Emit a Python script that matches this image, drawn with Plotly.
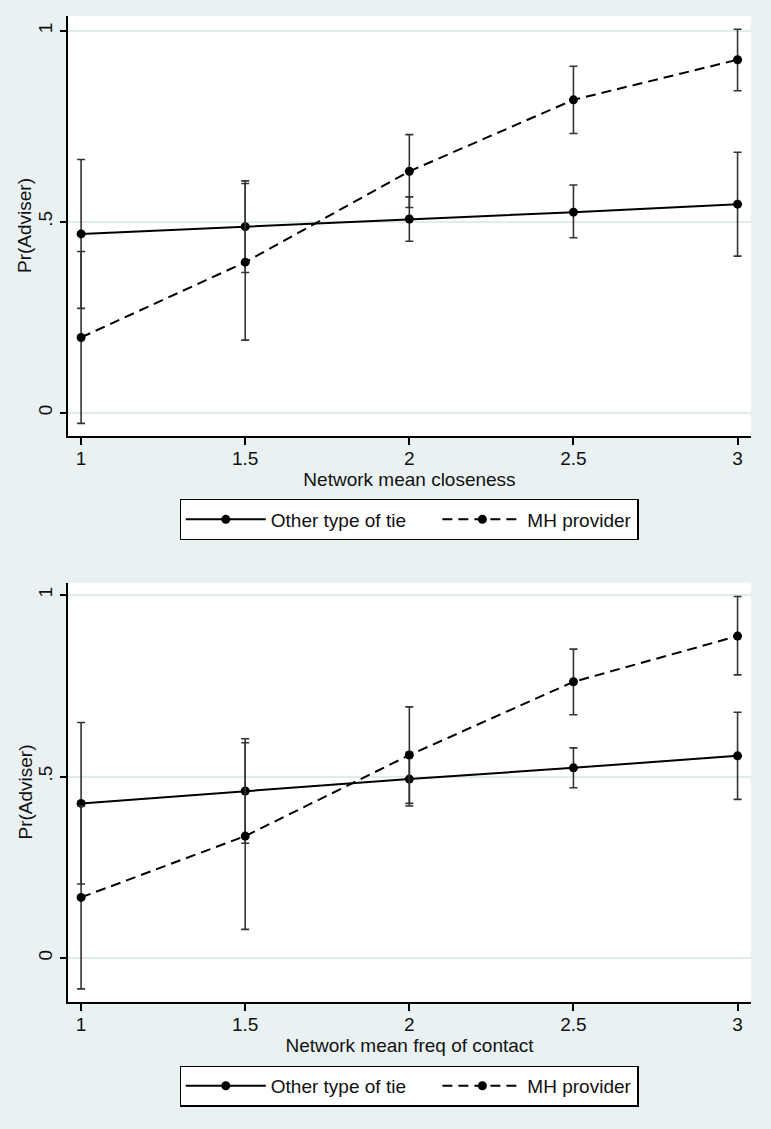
import plotly.graph_objects as go

x_vals = [1, 1.5, 2, 2.5, 3]

# top panel: network mean closeness
close_other = [0.468, 0.487, 0.507, 0.525, 0.546]
close_other_lo = [0.273, 0.367, 0.449, 0.458, 0.410]
close_other_hi = [0.663, 0.607, 0.565, 0.596, 0.682]
close_mh = [0.197, 0.394, 0.632, 0.819, 0.924]
close_mh_lo = [-0.028, 0.190, 0.537, 0.731, 0.843]
close_mh_hi = [0.422, 0.600, 0.728, 0.907, 1.004]

# bottom panel: network mean freq of contact
freq_other = [0.426, 0.460, 0.493, 0.524, 0.557]
freq_other_lo = [0.204, 0.316, 0.419, 0.469, 0.437]
freq_other_hi = [0.649, 0.604, 0.567, 0.579, 0.677]
freq_mh = [0.167, 0.336, 0.559, 0.761, 0.887]
freq_mh_lo = [-0.085, 0.079, 0.426, 0.670, 0.780]
freq_mh_hi = [0.419, 0.593, 0.692, 0.851, 0.996]

y_tickvals = [0, 0.5, 1]
y_ticktext = ["0", ".5", "1"]
x_tickvals = [1, 1.5, 2, 2.5, 3]
x_ticktext = ["1", "1.5", "2", "2.5", "3"]

bg_color = '#EAF1F3'
grid_color = '#E2EBEE'
bar_color = '#333333'
font_family = 'Liberation Sans, Arial, sans-serif'
pad = '\u00a0' * 5  # stretches the first legend entry like Stata's spacing


def err(y, lo, hi):
    up = [h - v for v, h in zip(y, hi)]
    down = [v - l for v, l in zip(y, lo)]
    return dict(type='data', symmetric=False, array=up, arrayminus=down,
                color=bar_color, thickness=1.6, width=4)


def add_panel(fig, xa, ya, leg, other, other_lo, other_hi, mh, mh_lo, mh_hi):
    fig.add_trace(go.Scatter(x=x_vals, y=other, mode='lines+markers', name='Other type of tie' + pad,
                             line=dict(color='black', width=2),
                             marker=dict(color='black', size=9),
                             error_y=err(other, other_lo, other_hi),
                             xaxis=xa, yaxis=ya, legend=leg))
    fig.add_trace(go.Scatter(x=x_vals, y=mh, mode='lines+markers', name='MH provider',
                             line=dict(color='black', width=2, dash='10px,6px'),
                             marker=dict(color='black', size=9),
                             error_y=err(mh, mh_lo, mh_hi),
                             xaxis=xa, yaxis=ya, legend=leg))


fig = go.Figure()
add_panel(fig, 'x', 'y', 'legend', close_other, close_other_lo, close_other_hi,
          close_mh, close_mh_lo, close_mh_hi)
add_panel(fig, 'x2', 'y2', 'legend2', freq_other, freq_other_lo, freq_other_hi,
          freq_mh, freq_mh_lo, freq_mh_hi)

xdom = [68.3 / 771, 750.7 / 771]
top_dom = [1 - 436 / 1129, 1 - 16 / 1129]
bot_dom = [1 - 1002.3 / 1129, 1 - 582.7 / 1129]

def xaxis_style(title, anchor):
    return dict(domain=xdom, anchor=anchor, range=[0.961, 3.04],
                tickvals=x_tickvals, ticktext=x_ticktext,
                showline=True, linecolor='black', linewidth=1.5,
                ticks='outside', ticklen=7, tickwidth=1.5, tickcolor='black',
                ticklabelstandoff=-3,
                showgrid=False, zeroline=False, automargin=False,
                tickfont=dict(size=19, color='#111111'),
                title=dict(text=title, font=dict(size=19, color='#111111'), standoff=0))


def yaxis_style(dom, rng, anchor):
    return dict(domain=dom, anchor=anchor, range=rng,
                tickvals=y_tickvals, ticktext=y_ticktext, tickangle=-90,
                showline=True, linecolor='black', linewidth=1.5,
                ticks='outside', ticklen=7, tickwidth=1.5, tickcolor='black',
                showgrid=True, gridcolor=grid_color, gridwidth=1.5,
                zeroline=False, automargin=False,
                tickfont=dict(size=19, color='#111111'))


legend_style = dict(orientation='h', xanchor='center', yanchor='top',
                    bgcolor='white', bordercolor='black', borderwidth=1.2,
                    font=dict(size=19, color='#111111', family=font_family),
                    itemwidth=80, traceorder='normal')

# y titles placed as annotations so they sit where Stata puts them
y_titles = [dict(text='Pr(Adviser)', textangle=-90, xref='paper', yref='paper',
                 x=25 / 771, y=sum(dom) / 2, xanchor='center', yanchor='middle',
                 showarrow=False, font=dict(size=19, color='#111111'))
            for dom in (top_dom, bot_dom)]

fig.update_layout(
    width=771, height=1129,
    margin=dict(l=0, r=0, t=0, b=0),
    paper_bgcolor=bg_color, plot_bgcolor='white',
    font=dict(family=font_family, color='#111111'),
    xaxis=xaxis_style('Network mean closeness', 'y'),
    yaxis=yaxis_style(top_dom, [-0.061, 1.0385], 'x'),
    xaxis2=xaxis_style('Network mean freq of contact', 'y2'),
    yaxis2=yaxis_style(bot_dom, [-0.122, 1.034], 'x2'),
    legend=dict(legend_style, x=0.5306, y=1 - 499.3 / 1129),
    legend2=dict(legend_style, x=0.5306, y=1 - 1065.7 / 1129),
    annotations=y_titles,
    showlegend=True,
)

fig.write_html("out.html", config={'displayModeBar': False},
               post_script="document.body.style.margin='0';")
